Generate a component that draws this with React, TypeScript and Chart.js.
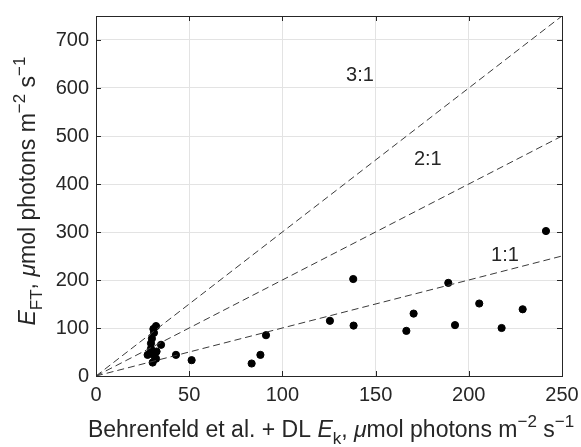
import React, { useEffect, useRef } from "react";
import { Chart, registerables } from "chart.js";
Chart.register(...registerables);

const clusterX = [32.2, 31.1, 30.0, 29.5, 29.5, 34.9, 32.5, 27.7, 29.0, 30.4, 32.2, 30.8, 31.5];
const clusterY = [104, 90, 78, 68, 57, 65, 51, 44, 47, 28, 36, 98, 40];
const otherX = [42.9, 51.3, 83.5, 88.2, 91.2, 125.5, 138.0, 138.2, 166.5, 170.4, 189.0, 192.6, 205.6, 217.6, 228.9, 241.4];
const otherY = [44, 33, 26, 44, 85, 115, 202, 105, 94, 130, 194, 106, 151, 100, 139, 302];
const ratios = [1, 2, 3];
const ratioLabels = ["1:1", "2:1", "3:1"];
const labelX = [219.4, 178, 141.6];
const labelY = [252, 452, 627];
const xTicks = [0, 50, 100, 150, 200, 250];
const yTicks = [0, 100, 200, 300, 400, 500, 600, 700];

const FONT = "'Liberation Sans', Arial, Helvetica, sans-serif";
const AX = "#262626";
const TICK_SIZE = 20;
const TITLE_SIZE = 23;

type Seg = { t: string; it?: boolean; sub?: boolean; sup?: boolean };

function drawRich(ctx: CanvasRenderingContext2D, segs: Seg[], cx: number, cy: number, size: number) {
  const small = Math.round(size * 0.74);
  const fontOf = (s: Seg) => `${s.it ? "italic " : ""}${s.sub || s.sup ? small : size}px ${FONT}`;
  let total = 0;
  const widths = segs.map((s) => {
    ctx.font = fontOf(s);
    const w = ctx.measureText(s.t).width;
    total += w;
    return w;
  });
  let x = cx - total / 2;
  ctx.textBaseline = "alphabetic";
  ctx.textAlign = "left";
  segs.forEach((s, i) => {
    ctx.font = fontOf(s);
    let dy = 0;
    if (s.sub) dy = size * 0.3;
    if (s.sup) dy = -size * 0.42;
    ctx.fillText(s.t, x, cy + dy);
    x += widths[i];
  });
}

const overlay = {
  id: "overlay",
  afterDraw(chart: any) {
    const { ctx, chartArea: a, scales } = chart;
    const xs = scales.x, ys = scales.y;
    ctx.save();
    ctx.strokeStyle = AX;
    ctx.lineWidth = 1;
    ctx.strokeRect(Math.round(a.left) + 0.5, Math.round(a.top) + 0.5, Math.round(a.right - a.left), Math.round(a.bottom - a.top));
    ctx.beginPath();
    const tl = 5;
    xTicks.forEach((v) => {
      const px = Math.round(xs.getPixelForValue(v)) + 0.5;
      ctx.moveTo(px, a.bottom); ctx.lineTo(px, a.bottom - tl);
      ctx.moveTo(px, a.top); ctx.lineTo(px, a.top + tl);
    });
    yTicks.forEach((v) => {
      const py = Math.round(ys.getPixelForValue(v)) + 0.5;
      ctx.moveTo(a.left, py); ctx.lineTo(a.left + tl, py);
      ctx.moveTo(a.right, py); ctx.lineTo(a.right - tl, py);
    });
    ctx.stroke();

    ctx.fillStyle = AX;
    ctx.font = `${TICK_SIZE}px ${FONT}`;
    ctx.textAlign = "center";
    ctx.textBaseline = "middle";
    ratioLabels.forEach((t, i) => {
      ctx.fillText(t, xs.getPixelForValue(labelX[i]), ys.getPixelForValue(labelY[i]));
    });

    drawRich(ctx, [
      { t: "Behrenfeld et al. + DL " },
      { t: "E", it: true },
      { t: "k", sub: true },
      { t: ", " },
      { t: "\u03bc", it: true },
      { t: "mol photons m" },
      { t: "\u22122", sup: true },
      { t: " s" },
      { t: "\u22121", sup: true },
    ], 331, 437, TITLE_SIZE);

    ctx.translate(35, 191);
    ctx.rotate(-Math.PI / 2);
    drawRich(ctx, [
      { t: "E", it: true },
      { t: "FT", sub: true },
      { t: ", " },
      { t: "\u03bc", it: true },
      { t: "mol photons m" },
      { t: "\u22122", sup: true },
      { t: " s" },
      { t: "\u22121", sup: true },
    ], 0, 0, TITLE_SIZE);
    ctx.restore();
  },
};

export default function App() {
  const ref = useRef<HTMLCanvasElement>(null);
  useEffect(() => {
    if (!ref.current) return;
    const lineSets = ratios.map((r) => ({
      type: "line" as const,
      data: [{ x: 0, y: 0 }, { x: 250, y: 250 * r }],
      borderColor: "#3a3a3a",
      borderWidth: 1,
      borderDash: [7, 4],
      pointRadius: 0,
      fill: false,
    }));
    const chart = new Chart(ref.current, {
      type: "scatter",
      data: {
        datasets: [
          ...lineSets,
          {
            type: "scatter",
            data: clusterX.map((x, i) => ({ x, y: clusterY[i] })),
            backgroundColor: "#000",
            borderColor: "#000",
            pointRadius: 3.6,
          },
          {
            type: "scatter",
            data: otherX.map((x, i) => ({ x, y: otherY[i] })),
            backgroundColor: "#000",
            borderColor: "#000",
            pointRadius: 3.6,
          },
        ] as any,
      },
      options: {
        animation: false,
        responsive: false,
        devicePixelRatio: 1,
        layout: { padding: { left: 0, right: 19, top: 16, bottom: 0 } },
        plugins: { legend: { display: false }, tooltip: { enabled: false } },
        scales: {
          x: {
            type: "linear",
            min: 0,
            max: 250,
            afterFit: (s: any) => { s.height = 71; s.paddingLeft = 0; s.paddingRight = 0; },
            afterBuildTicks: (s: any) => { s.ticks = xTicks.map((v) => ({ value: v })); },
            ticks: { font: { size: TICK_SIZE, family: FONT }, color: AX, padding: 7, maxRotation: 0 },
            grid: { color: "#e3e3e3", drawTicks: false },
            border: { display: false },
          },
          y: {
            type: "linear",
            min: 0,
            max: 750,
            afterFit: (s: any) => { s.width = 96; s.paddingTop = 0; s.paddingBottom = 0; },
            afterBuildTicks: (s: any) => { s.ticks = yTicks.map((v) => ({ value: v })); },
            ticks: { font: { size: TICK_SIZE, family: FONT }, color: AX, padding: 7 },
            grid: { color: "#e3e3e3", drawTicks: false },
            border: { display: false },
          },
        },
      },
      plugins: [overlay],
    });
    return () => chart.destroy();
  }, []);
  return (
    <canvas
      ref={ref}
      width={581}
      height={447}
      style={{ display: "block", position: "absolute", left: 0, top: 0 }}
    />
  );
}
